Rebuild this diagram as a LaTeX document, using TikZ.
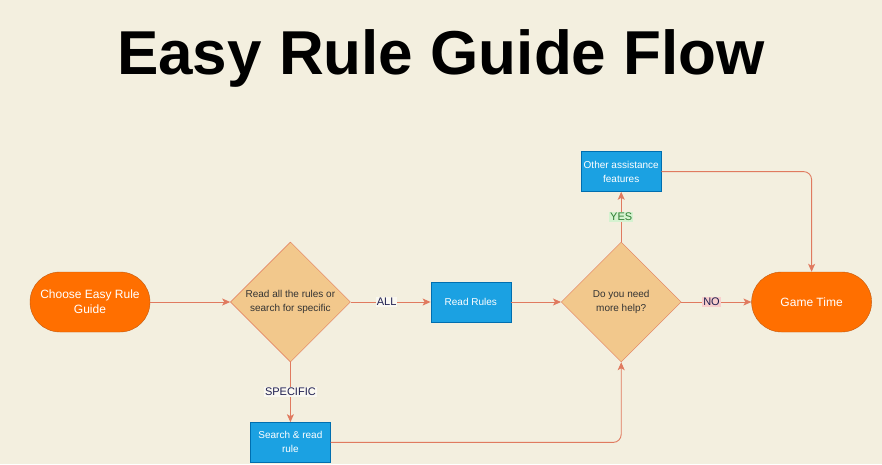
\documentclass[tikz,border=0pt]{standalone}
\usepackage{fontspec}
\setmainfont{Liberation Sans}
\usepackage{xcolor}
\usepackage{tikz}
\usetikzlibrary{shapes.geometric, arrows.meta, positioning}
\definecolor{pagebg}{HTML}{F3EFDF}
\definecolor{termorange}{HTML}{FF6F00}
\definecolor{termedge}{HTML}{C25A10}
\definecolor{decisiontan}{HTML}{F2C88C}
\definecolor{decisionedge}{HTML}{E0765A}
\definecolor{stepblue}{HTML}{1BA1E2}
\definecolor{stepedge}{HTML}{006EAF}
\definecolor{flowline}{HTML}{E07A5F}
\definecolor{yesgreen}{HTML}{2E7D32}
\definecolor{yesbg}{HTML}{D5F2D0}
\definecolor{nobg}{HTML}{F8CECC}
\definecolor{labelink}{HTML}{1E1E50}

\begin{document}
\begin{tikzpicture}[
    x=1pt, y=1pt,
    node distance=60pt and 80pt,
    terminal/.style={rectangle, draw=termedge, fill=termorange, rounded corners=30pt, minimum width=120pt, minimum height=60pt, inner sep=0pt, align=center, text=white, font=\fontsize{12}{15}\selectfont},
    decision/.style={diamond, draw=decisionedge, fill=decisiontan, minimum width=120pt, minimum height=120pt, inner sep=0pt, align=center, text=black!80, font=\fontsize{10}{14}\selectfont},
    stepbox/.style={rectangle, draw=stepedge, fill=stepblue, minimum width=80pt, minimum height=40pt, inner sep=0pt, align=center, text=white, font=\fontsize{10}{14}\selectfont},
    lbl/.style={fill=white!55!pagebg, inner sep=1pt, text=labelink, font=\fontsize{11}{13}\selectfont},
    arrow/.style={-{Stealth[length=8pt, width=7pt, inset=2pt]}, flowline, line width=0.9pt}
]

\fill[pagebg] (0,0) rectangle (882,-464);
\node[anchor=base, font=\bfseries\fontsize{62}{70}\selectfont] (title) at (441,-74) {Easy Rule Guide Flow};

\node[terminal] (choose) at (90,-302) {Choose Easy Rule\\Guide};
\node[decision, right=80pt of choose] (which) {Read all the rules or\\search for specific};
\node[stepbox, right=80pt of which] (read) {Read Rules};
\node[decision, right=50pt of read] (help) {Do you need\\more help?};
\node[terminal, right=70pt of help] (game) {Game Time};
\node[stepbox, above=50pt of help] (other) {Other assistance\\features};
\node[stepbox, below=60pt of which] (search) {Search \& read\\rule};

\draw[arrow] (choose) -- (which);
\draw[arrow] (which) -- node[lbl, pos=0.45] {ALL} (read);
\draw[arrow] (which) -- node[lbl] {SPECIFIC} (search);
\draw[arrow] (read) -- (help);
\draw[arrow] (help) -- node[lbl, fill=yesbg, text=yesgreen] {YES} (other);
\draw[arrow] (help) -- node[lbl, fill=nobg, pos=0.43] {NO} (game);
\draw[arrow, rounded corners=8pt] (other.east) -| (game.north);
\draw[arrow, rounded corners=8pt] (search.east) -| (help.south);

\end{tikzpicture}
\end{document}
